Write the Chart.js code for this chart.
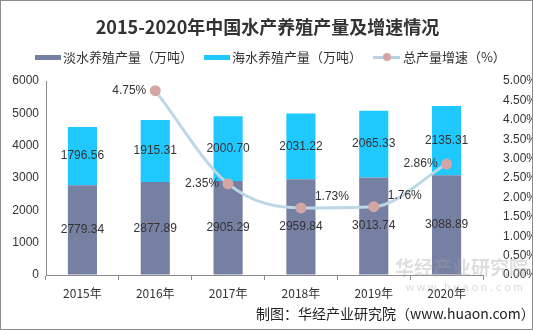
<!DOCTYPE html>
<html lang="zh">
<head>
<meta charset="UTF-8">
<title>2015-2020年中国水产养殖产量及增速情况</title>
<style>
    body {
        margin: 0;
        background: #fff;
        font-family: "Liberation Sans", Arial, "Noto Sans CJK SC", sans-serif;
    }
    #wrap {
        position: relative;
        width: 533px;
        height: 330px;
        box-sizing: border-box;
        border: 1px solid #8c8c8c;
        overflow: hidden;
    }
    #chart {
        position: absolute;
        left: 0;
        top: 0;
    }
    .title {
        position: absolute;
        left: 0;
        width: 533px;
        top: 12px;
        text-align: center;
        font-family: "Noto Sans CJK SC", sans-serif;
        font-weight: bold;
        font-size: 18px;
        color: #333;
    }
    .legend {
        position: absolute;
        top: 46px;
        left: 34px;
        font-family: "Noto Sans CJK SC", sans-serif;
        font-size: 13px;
        color: #333;
        white-space: nowrap;
    }
    .legend span.item { display: inline-block; margin-right: 8px; }
    .sw { display: inline-block; width: 26px; height: 5px; vertical-align: middle; margin-right: 2px; position: relative; top: -1px; }
    .ln { display: inline-block; width: 27px; height: 3px; background: #b8d4e4; vertical-align: middle; position: relative; top: -1px; margin-right: 3px; }
    .ln i { position: absolute; left: 10px; top: -3px; width: 8px; height: 8px; border-radius: 50%; background: #d3a5a5; }
    .footer {
        position: absolute;
        left: 255px;
        top: 302px;
        font-family: "Noto Sans CJK SC", sans-serif;
        font-size: 14px;
        color: #222;
    }
    .wm {
        position: absolute;
        left: 394px;
        top: 252px;
        font-family: "Noto Sans CJK SC", sans-serif;
        font-weight: bold;
        font-size: 19px;
        color: rgba(160, 160, 160, 0.35);
    }
    .wm2 {
        position: absolute;
        left: 405px;
        top: 280px;
        font-size: 11px;
        letter-spacing: 3px;
        color: rgba(160, 160, 160, 0.4);
    }
</style>
</head>
<body>
<div id="wrap">
    <canvas id="chart" width="533" height="330"></canvas>
    <div class="title">2015-2020年中国水产养殖产量及增速情况</div>
    <div class="legend">
        <span class="item"><span class="sw" style="background:#7580a3"></span>淡水养殖产量（万吨）</span>
        <span class="item"><span class="sw" style="background:#1fc8ff"></span>海水养殖产量（万吨）</span>
        <span class="item"><span class="ln"><i></i></span>总产量增速（%）</span>
    </div>
    <div class="wm">华经产业研究院</div>
    <div class="wm2">www.huaon.com</div>
    <div class="footer">制图：华经产业研究院（www.huaon.com）</div>
</div>

<script src="https://cdn.jsdelivr.net/npm/chart.js"></script>
<script>
    const years = ["2015年", "2016年", "2017年", "2018年", "2019年", "2020年"];
    const freshwater = [2779.34, 2877.89, 2905.29, 2959.84, 3013.74, 3088.89];
    const marine = [1796.56, 1915.31, 2000.70, 2031.22, 2065.33, 2135.31];
    const growth = [null, 4.75, 2.35, 1.73, 1.76, 2.86];
    // where the % label sits relative to its point
    const growthLabelSide = [null, "left", "left", "right", "right", "left"];

    const labelPlugin = {
        id: 'valueLabels',
        afterDatasetsDraw(chart) {
            const ctx = chart.ctx;
            ctx.save();
            ctx.font = '12px "Liberation Sans", Arial, sans-serif';
            ctx.fillStyle = '#333';
            ctx.textBaseline = 'middle';
            chart.data.datasets.forEach((ds, i) => {
                const meta = chart.getDatasetMeta(i);
                meta.data.forEach((el, j) => {
                    const v = ds.data[j];
                    if (v === null) return;
                    if (ds.type === 'line') {
                        const txt = v.toFixed(2) + '%';
                        if (growthLabelSide[j] === 'left') {
                            ctx.textAlign = 'right';
                            ctx.fillText(txt, el.x - 9, el.y);
                        } else {
                            ctx.textAlign = 'left';
                            ctx.fillText(txt, el.x + 14, el.y - 11);
                        }
                    } else {
                        ctx.textAlign = 'center';
                        ctx.fillText(v.toFixed(2), el.x, (el.y + el.base) / 2);
                    }
                });
            });
            ctx.restore();
        }
    };

    new Chart(document.getElementById('chart'), {
        data: {
            labels: years,
            datasets: [
                {
                    type: 'line',
                    label: '总产量增速（%）',
                    data: growth,
                    yAxisID: 'y1',
                    borderColor: '#bcd7e6',
                    borderWidth: 3,
                    pointRadius: 4,
                    pointBackgroundColor: '#d3a5a5',
                    pointBorderColor: '#d3a5a5',
                    cubicInterpolationMode: 'monotone',
                    order: 0
                },
                {
                    type: 'bar',
                    label: '淡水养殖产量（万吨）',
                    data: freshwater,
                    backgroundColor: '#7580a3',
                    categoryPercentage: 1,
                    barPercentage: 0.4,
                    order: 1
                },
                {
                    type: 'bar',
                    label: '海水养殖产量（万吨）',
                    data: marine,
                    backgroundColor: '#1fc8ff',
                    categoryPercentage: 1,
                    barPercentage: 0.4,
                    order: 2
                }
            ]
        },
        options: {
            responsive: false,
            animation: false,
            devicePixelRatio: 1,
            layout: { padding: { top: 80, left: 0, right: 0, bottom: 0 } },
            plugins: {
                legend: { display: false },
                tooltip: { enabled: false }
            },
            scales: {
                x: {
                    stacked: true,
                    afterFit(s) { s.height = 56; },
                    grid: { offset: true, drawOnChartArea: false, tickLength: 5, color: '#8c8c8c' },
                    border: { color: '#8c8c8c' },
                    ticks: { color: '#333', padding: 6, font: { size: 12, family: '"Noto Sans CJK SC", sans-serif' } }
                },
                y: {
                    stacked: true,
                    position: 'left',
                    min: 0,
                    max: 6000,
                    afterFit(s) { s.width = 45; },
                    grid: { drawOnChartArea: false, drawTicks: false },
                    border: { color: '#8c8c8c' },
                    ticks: {
                        stepSize: 1000,
                        padding: 7,
                        color: '#333',
                        font: { size: 12, family: '"Liberation Sans", Arial' },
                        callback: v => String(v)
                    }
                },
                y1: {
                    position: 'right',
                    min: 0,
                    max: 5,
                    afterFit(s) { s.width = 51; },
                    grid: { display: false },
                    border: { display: false },
                    ticks: {
                        stepSize: 0.5,
                        padding: 12,
                        color: '#333',
                        font: { size: 12, family: '"Liberation Sans", Arial' },
                        callback: v => v.toFixed(2) + '%'
                    }
                }
            }
        },
        plugins: [labelPlugin]
    });
</script>
</body>
</html>
